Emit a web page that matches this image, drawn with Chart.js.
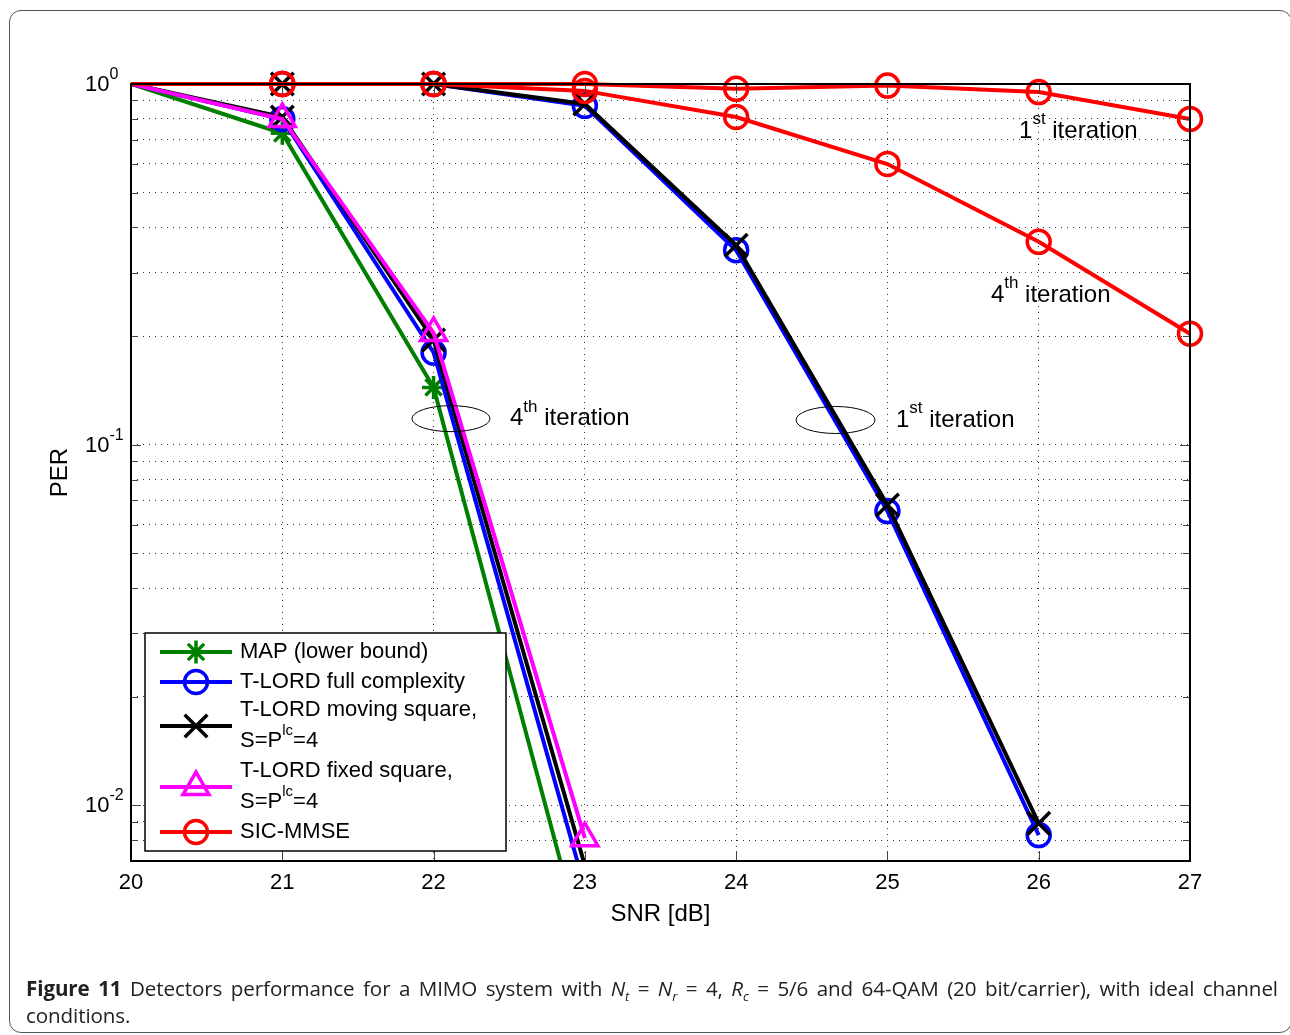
<!DOCTYPE html>
<html><head><meta charset="utf-8">
<script src="https://cdn.jsdelivr.net/npm/chart.js@4/dist/chart.umd.min.js"></script>
<style>
html,body{margin:0;padding:0;background:#fff;width:1290px;height:1035px;overflow:hidden;}
#wrap{position:absolute;left:0;top:0;width:1290px;height:1035px;}
#frame{position:absolute;left:9px;top:10px;width:1283px;height:1023px;border:1.5px solid #555;border-radius:12px;box-sizing:border-box;pointer-events:none;}
#cap{position:absolute;left:26px;top:975px;width:1252px;font-family:"Open Sans",sans-serif;font-size:20.6px;line-height:27px;color:#222;text-align:justify;letter-spacing:-0.1px;}
#cap sub{font-size:13px;line-height:0;}
</style></head>
<body>
<div id="frame"></div>
<div id="wrap"><canvas id="c"></canvas></div>
<div id="cap"><b>Figure 11</b> Detectors performance for a MIMO system with <i>N<sub>t</sub></i> = <i>N<sub>r</sub></i> = 4, <i>R<sub>c</sub></i> = 5/6 and 64-QAM (20 bit/carrier), with ideal channel conditions.</div>
<script>
// ---- data ----
const snr = [20, 21, 22, 23, 24, 25, 26, 27];
const mapLowerBound4 = [1, 0.73, 0.144, 0.0039];
const tlordFull4 = [1, 0.80, 0.18, 0.0059];
const tlordMoving4 = [1, 0.81, 0.195, 0.0068];
const tlordFixed4 = [1, 0.80, 0.204, 0.0081];
const tlordFull1 = [1, 1, 1, 0.87, 0.346, 0.0654, 0.00826];
const tlordMoving1 = [1, 1, 1, 0.88, 0.357, 0.068, 0.0089];
const sicMmse1 = [1, 1, 1, 1, 0.97, 0.99, 0.95, 0.80];
const sicMmse4 = [1, 1, 1, 0.957, 0.81, 0.60, 0.365, 0.203];
const xTickValues = [20, 21, 22, 23, 24, 25, 26, 27];
const xTickLabels = ['20', '21', '22', '23', '24', '25', '26', '27'];
const yMajorTicks = [0.01, 0.1, 1];
const yMajorExp = ['-2', '-1', '0'];
const yMinorTicks = [0.008, 0.009, 0.02, 0.03, 0.04, 0.05, 0.06, 0.07, 0.08, 0.09,
                     0.2, 0.3, 0.4, 0.5, 0.6, 0.7, 0.8, 0.9];
const legendNames = [['MAP (lower bound)'], ['T-LORD full complexity'],
  ['T-LORD moving square,', 'S=P|lc|=4'], ['T-LORD fixed square,', 'S=P|lc|=4'], ['SIC-MMSE']];

const Y_MIN = 0.007, Y_MAX = 1;
const GREEN = '#007f00', BLUE = '#0000ff', BLACK = '#000000', MAG = '#ff00ff', RED = '#ff0000';
const FONT = '"Liberation Sans", Arial, Helvetica, sans-serif';

const pts = arr => arr.map((v, i) => ({x: snr[i], y: v}));
function ds(label, arr, color, style, r, order) {
  return {
    label, data: pts(arr), borderColor: color, backgroundColor: 'rgba(0,0,0,0)',
    pointBorderColor: color, pointBackgroundColor: 'rgba(0,0,0,0)',
    borderWidth: 4, pointBorderWidth: 3.5, pointStyle: style,
    pointRadius: c => (c.raw && (c.raw.x === 20 || c.raw.y < Y_MIN)) ? 0 : r, pointHoverRadius: r,
    tension: 0, order, clip: {left: 0, top: 20, right: 20, bottom: 0}, legendR: r
  };
}

function supText(ctx, x, y, parts, size, supSize, align) {
  const segs = parts.split('|');
  let total = 0;
  segs.forEach((s, i) => { ctx.font = (i % 2 ? supSize : size) + 'px ' + FONT; total += ctx.measureText(s).width; });
  let cx = align === 'center' ? x - total / 2 : x;
  ctx.textAlign = 'left'; ctx.textBaseline = 'middle';
  segs.forEach((s, i) => {
    const sup = i % 2 === 1;
    ctx.font = (sup ? supSize : size) + 'px ' + FONT;
    ctx.fillText(s, cx, sup ? y - size * 0.47 : y);
    cx += ctx.measureText(s).width;
  });
}

const decor = {
  id: 'decor',
  afterDraw(chart) {
    const ctx = chart.ctx, a = chart.chartArea, xs = chart.scales.x, ys = chart.scales.y;
    ctx.save();
    ctx.fillStyle = '#000';
    ctx.lineWidth = 1;
    ctx.strokeStyle = '#444';
    xTickValues.forEach(v => {
      const px = Math.round(xs.getPixelForValue(v)) + 0.5;
      ctx.beginPath(); ctx.moveTo(px, a.bottom); ctx.lineTo(px, a.bottom - 10);
      ctx.moveTo(px, a.top); ctx.lineTo(px, a.top + 10); ctx.stroke();
    });
    yMajorTicks.concat(yMinorTicks).forEach(v => {
      const py = Math.round(ys.getPixelForValue(v)) + 0.5;
      const len = yMajorTicks.includes(v) ? 10 : 7;
      ctx.beginPath(); ctx.moveTo(a.left, py); ctx.lineTo(a.left + len, py);
      ctx.moveTo(a.right, py); ctx.lineTo(a.right - len, py); ctx.stroke();
    });
    ctx.strokeStyle = '#000'; ctx.lineWidth = 2;
    ctx.strokeRect(a.left, a.top, a.right - a.left, a.bottom - a.top);
    ctx.font = '22px ' + FONT; ctx.textAlign = 'center'; ctx.textBaseline = 'middle';
    xTickValues.forEach((v, i) => ctx.fillText(xTickLabels[i], xs.getPixelForValue(v), a.bottom + 22));
    yMajorTicks.forEach((v, i) => {
      supText(ctx, 85, ys.getPixelForValue(v) + 1, '10|' + yMajorExp[i] + '|', 22, 16, 'left');
    });
    ctx.font = '24px ' + FONT; ctx.textAlign = 'center'; ctx.textBaseline = 'middle';
    ctx.fillText('SNR [dB]', (a.left + a.right) / 2, a.bottom + 53);
    ctx.save(); ctx.translate(60, (a.top + a.bottom) / 2); ctx.rotate(-Math.PI / 2);
    ctx.fillText('PER', 0, 0); ctx.restore();
    ctx.lineWidth = 1; ctx.strokeStyle = '#000';
    [[22.115, 0.118, 39, 13], [24.657, 0.117, 39.5, 13.5]].forEach(e => {
      ctx.beginPath();
      ctx.ellipse(xs.getPixelForValue(e[0]), ys.getPixelForValue(e[1]), e[2], e[3], 0, 0, Math.PI * 2);
      ctx.stroke();
    });
    [[22.505, 0.118, '4|th| iteration'], [25.056, 0.117, '1|st| iteration'],
     [25.87, 0.741, '1|st| iteration'], [25.684, 0.26, '4|th| iteration']].forEach(t => {
      supText(ctx, xs.getPixelForValue(t[0]), ys.getPixelForValue(t[1]), t[2], 24, 17, 'left');
    });
    const L = 145, T = 633, R = 506, B = 851;
    ctx.fillStyle = '#fff'; ctx.fillRect(L, T, R - L, B - T);
    ctx.lineWidth = 1.5; ctx.strokeStyle = '#000'; ctx.strokeRect(L, T, R - L, B - T);
    const rows = [652, 682, 726, 787, 832];
    rows.forEach((ry, i) => {
      const d = chart.data.datasets[i];
      ctx.strokeStyle = d.borderColor; ctx.lineWidth = 4;
      ctx.beginPath(); ctx.moveTo(160, ry); ctx.lineTo(232, ry); ctx.stroke();
      ctx.lineWidth = 3.5; ctx.fillStyle = 'rgba(0,0,0,0)';
      Chart.helpers.drawPoint(ctx, {pointStyle: d.pointStyle, radius: d.legendR, rotation: 0, borderWidth: 3.5}, 196, ry);
      ctx.fillStyle = '#000';
      const names = legendNames[i];
      if (names.length === 1) supText(ctx, 240, ry, names[0], 22, 15, 'left');
      else { supText(ctx, 240, ry - 16, names[0], 22, 15, 'left'); supText(ctx, 240, ry + 15, names[1], 22, 15, 'left'); }
    });
    ctx.restore();
  }
};

const datasets = [
  ds('MAP (lower bound)', mapLowerBound4, GREEN, 'star', 11.5, 9),
  ds('T-LORD full complexity', tlordFull4, BLUE, 'circle', 11.5, 8),
  ds('T-LORD moving square, S=P^lc=4', tlordMoving4, BLACK, 'crossRot', 16, 7),
  ds('T-LORD fixed square, S=P^lc=4', tlordFixed4, MAG, 'triangle', 15, 6),
  ds('SIC-MMSE', sicMmse1, RED, 'circle', 11.5, 2),
  ds('T-LORD full complexity (1st)', tlordFull1, BLUE, 'circle', 11.5, 5),
  ds('T-LORD moving square (1st)', tlordMoving1, BLACK, 'crossRot', 16, 4),
  ds('SIC-MMSE (4th)', sicMmse4, RED, 'circle', 11.5, 3)
];

new Chart(document.getElementById('c'), {
  type: 'line',
  data: {datasets},
  plugins: [decor],
  options: {
    responsive: true, maintainAspectRatio: false, animation: false,
    layout: {padding: {left: 0, top: 84, right: 100, bottom: 0}},
    plugins: {legend: {display: false}, tooltip: {enabled: false}},
    scales: {
      x: {
        type: 'linear', min: 20, max: 27,
        afterBuildTicks: s => { s.ticks = xTickValues.map(v => ({value: v})); },
        afterFit: s => { s.height = 174; },
        ticks: {display: false},
        grid: {color: '#333', lineWidth: 1, drawTicks: false},
        border: {display: false, dash: [1, 5]}
      },
      y: {
        type: 'logarithmic', min: Y_MIN, max: Y_MAX,
        afterBuildTicks: s => { s.ticks = yMinorTicks.concat(yMajorTicks).sort((p, q) => p - q).map(v => ({value: v})); },
        afterFit: s => { s.width = 131; },
        ticks: {display: false},
        grid: {color: '#333', lineWidth: 1, drawTicks: false},
        border: {display: false, dash: [1, 5]}
      }
    }
  }
});
</script>
</body></html>
